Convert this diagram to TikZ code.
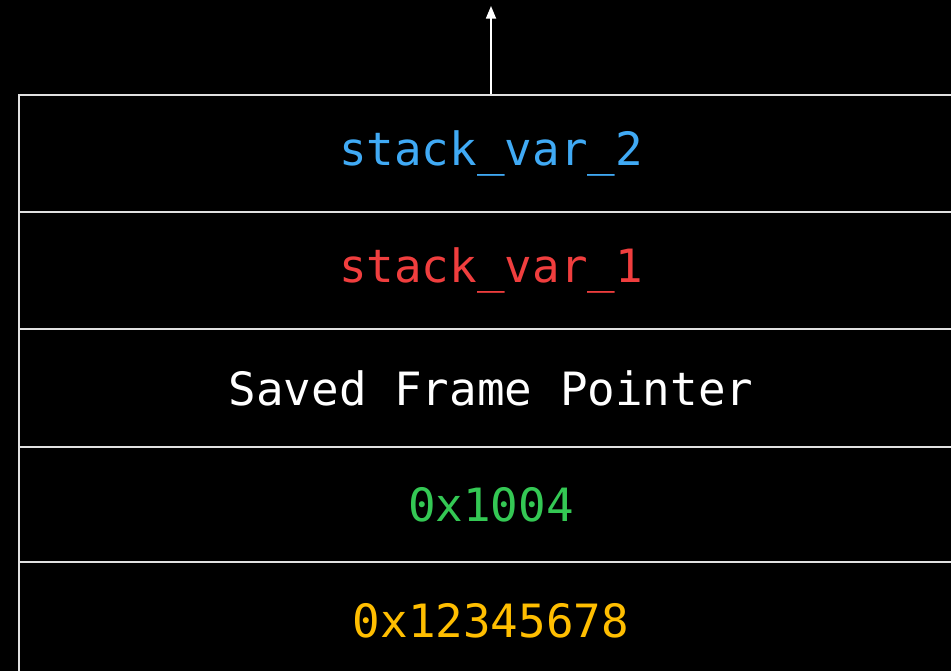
\documentclass[tikz,border=0pt]{standalone}
\usepackage{fontspec}
\setmonofont{DejaVu Sans Mono}
\usetikzlibrary{arrows.meta}
\definecolor{varblue}{RGB}{64,170,245}
\definecolor{varred}{RGB}{240,62,62}
\definecolor{addrgreen}{RGB}{52,200,84}
\definecolor{retyellow}{RGB}{255,190,0}
\definecolor{rulegray}{RGB}{225,225,225}
\begin{document}
\begin{tikzpicture}[x=0.75pt,y=-0.75pt,
  slot/.style={draw=rulegray, line width=1.1pt, minimum width=708pt,
    inner sep=0pt, font=\ttfamily\fontsize{34.4pt}{40pt}\selectfont},
  pointer/.style={draw=white, line width=1.3pt,
    -{Triangle[length=9.5pt,width=7.5pt]}}]
  % page and background
  \fill[black] (0,0) rectangle (951,671);
  \useasboundingbox (0,0) rectangle (951,671);
  \begin{scope}
    \clip (0,0) rectangle (951,671);
    % stack frame slots, top of the stack first
    \node[slot, minimum height=87.75pt, text=varblue]   (v2)  at (491,153.5) {stack\_var\_2};
    \node[slot, minimum height=87.75pt, text=varred]    (v1)  at (491,270.5) {stack\_var\_1};
    \node[slot, minimum height=88.5pt,  text=white]     (sfp) at (491,388)   {Saved Frame Pointer};
    \node[slot, minimum height=86.25pt, text=addrgreen] (ret) at (491,504.5) {0x1004};
    \node[slot, minimum height=87.75pt, text=retyellow] (arg) at (491,620.5) {0x12345678};
  \end{scope}
  % growth direction of the stack
  \coordinate (grow) at (491,6);
  \draw[pointer] (v2.north) -- (grow);
\end{tikzpicture}
\end{document}
